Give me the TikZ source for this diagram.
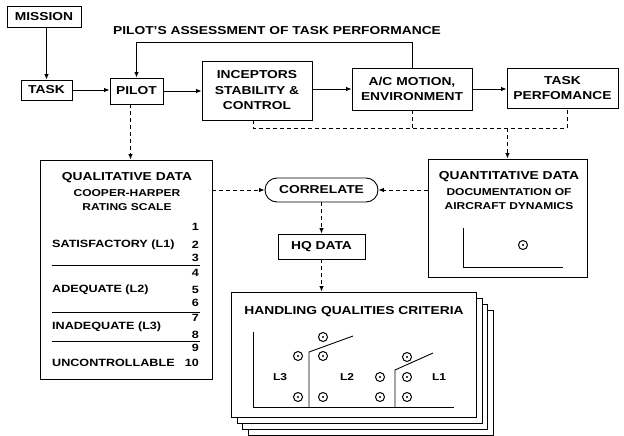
\documentclass[tikz,border=0pt]{standalone}
\usepackage{fontspec}
\setmainfont{Liberation Sans}[FakeStretch=1.2]
\usetikzlibrary{arrows.meta,shapes.misc}
\begin{document}
\begin{tikzpicture}[x=1pt,y=-1pt,
 box/.style={draw, line width=0.9pt, align=center, inner sep=0pt, font=\bfseries\fontsize{11.5}{15.5}\selectfont},
 arr/.style={line width=0.9pt, -{Latex[length=5.5pt,width=4.5pt]}},
 darr/.style={arr, dash pattern=on 4pt off 3pt},
 dln/.style={line width=0.9pt, dash pattern=on 4pt off 3pt},
 txt/.style={font=\bfseries\fontsize{11.5}{14}\selectfont, inner sep=0pt},
 stxt/.style={font=\bfseries\fontsize{10}{14}\selectfont, inner sep=0pt, align=center},
 ltxt/.style={font=\bfseries\fontsize{10.5}{14}\selectfont, inner sep=0pt},
 dotc/.style={circle, draw, line width=1pt, minimum size=9pt, inner sep=0pt, path picture={\fill (path picture bounding box.center) circle (1.2pt);}},
 card/.style={draw, line width=0.9pt, fill=white, minimum width=245pt, minimum height=125pt, inner sep=0pt},
 frame/.style={draw, line width=0.9pt, inner sep=0pt},
 ax/.style={line width=0.9pt}
]
\useasboundingbox (0,0) rectangle (624,436);
% top row
\node[box, minimum width=74pt, minimum height=21pt] (mission) at (44,16.5) {MISSION};
\node[box, minimum width=51pt, minimum height=20pt] (task) at (46.5,90) {TASK};
\node[box, minimum width=53pt, minimum height=26pt] (pilot) at (136.5,91) {PILOT};
\node[box, minimum width=110pt, minimum height=59pt] (incep) at (257,90.5) {INCEPTORS\\STABILITY \&\\CONTROL};
\node[box, minimum width=120pt, minimum height=42pt] (acm) at (412,89) {A/C MOTION,\\ENVIRONMENT};
\node[box, minimum width=111pt, minimum height=40pt] (tperf) at (562.5,88) {TASK\\PERFOMANCE};
\node[txt] (fblabel) at (277,31) {PILOT'S ASSESSMENT OF TASK PERFORMANCE};

\draw[arr] (task.north |- mission.south) -- (task.north);
\draw[arr] (task.east) -- (pilot.west |- task.east);
\draw[arr] (pilot.east) -- (incep.west |- pilot.east);
\draw[arr] (incep.east |- acm.west) -- (acm.west);
\draw[arr] (acm.east) -- (tperf.west |- acm.east);
\draw[arr] (acm.north) -- ++(0,-25) -| (pilot.north);

% data boxes
\node[frame, minimum width=172pt, minimum height=219pt] (qual) at (126,269.5) {};
\node[txt] (qt1) at (127,178) {QUALITATIVE DATA};
\node[stxt] (qt2) at (127,200) {COOPER-HARPER\\RATING SCALE};
\node[ltxt, anchor=west] (s1) at (52,245) {SATISFACTORY (L1)};
\node[ltxt, anchor=west] (s2) at (52,290) {ADEQUATE (L2)};
\node[ltxt, anchor=west] (s3) at (52,327) {INADEQUATE (L3)};
\node[ltxt, anchor=west] (s4) at (52,363) {UNCONTROLLABLE};
\node[ltxt, anchor=east] (n1) at (199,227) {1};
\node[ltxt, anchor=east] (n2) at (199,245) {2};
\node[ltxt, anchor=east] (n3) at (199,258) {3};
\node[ltxt, anchor=east] (n4) at (199,273) {4};
\node[ltxt, anchor=east] (n5) at (199,290) {5};
\node[ltxt, anchor=east] (n6) at (199,303) {6};
\node[ltxt, anchor=east] (n7) at (199,318) {7};
\node[ltxt, anchor=east] (n8) at (199,335) {8};
\node[ltxt, anchor=east] (n9) at (199,348) {9};
\node[ltxt, anchor=east] (n10) at (199,363) {10};
\draw[ax] (52,265) -- (200,265);
\draw[ax] (52,312) -- (200,312);
\draw[ax] (52,341) -- (200,341);

\node[frame, minimum width=159pt, minimum height=118pt] (quant) at (507.5,218) {};
\node[txt] (qq1) at (509,177) {QUANTITATIVE DATA};
\node[stxt] (qq2) at (509,199) {DOCUMENTATION OF\\AIRCRAFT DYNAMICS};
\draw[ax] (463,228) -- (463,267) -- (563,267);
\node[dotc] (qd) at (523,245) {};

\node[box, rounded rectangle, minimum width=113pt, minimum height=24pt] (corr) at (321.5,190) {CORRELATE};
\node[box, minimum width=87pt, minimum height=25pt] (hq) at (321.5,246.5) {HQ DATA};

% cards
\node[card] (card4) at (371,372.5) {};
\node[card] (card3) at (365,366.5) {};
\node[card] (card2) at (359.5,360.5) {};
\node[card] (card1) at (353.5,354.5) {};
\node[txt] (hqc) at (354,312) {HANDLING QUALITIES CRITERIA};
\draw[ax] (253,332) -- (253,407) -- (454,407);
\draw[ax] (309,407) -- (309,352) -- (353,336);
\draw[ax] (395,407) -- (395,370) -- (433,353);
\node[dotc] (c1) at (298,356) {};
\node[dotc] (c2) at (323,337) {};
\node[dotc] (c3) at (323,356) {};
\node[dotc] (c4) at (298,397) {};
\node[dotc] (c5) at (323,397) {};
\node[dotc] (c6) at (380,377) {};
\node[dotc] (c7) at (407,357) {};
\node[dotc] (c8) at (407,377) {};
\node[dotc] (c9) at (380,397) {};
\node[dotc] (c10) at (407,397) {};
\node[stxt] (l3) at (280,377) {L3};
\node[stxt] (l2) at (347,377) {L2};
\node[stxt] (l1) at (439,377) {L1};

% dashed connectors
\coordinate (bus) at (0,128);
\draw[dln] ([xshift=-4pt]incep.south) -- ([xshift=-4pt]incep.south |- bus) -- ([xshift=4.5pt]tperf.south |- bus) -- ([xshift=4.5pt]tperf.south);
\draw[dln] (acm.south) -- (acm.south |- bus);
\draw[darr] (quant.north |- bus) -- (quant.north);
\draw[darr] ([xshift=-6pt]pilot.south) -- ([xshift=-6pt]pilot.south |- qual.north);
\draw[darr] (qual.east |- corr.west) -- (corr.west);
\draw[darr] (quant.west |- corr.east) -- (corr.east);
\draw[darr] (corr.south) -- (hq.north);
\draw[darr] (hq.south) -- (hq.south |- card1.north);
\end{tikzpicture}
\end{document}
